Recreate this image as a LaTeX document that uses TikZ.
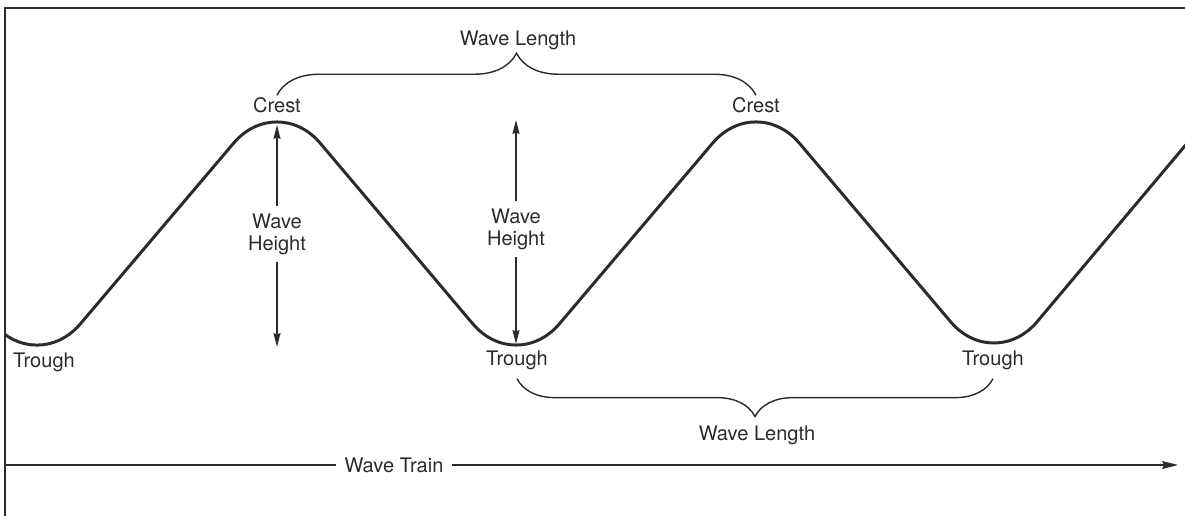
\documentclass[tikz,border=0pt]{standalone}
\usepackage{fontspec}
\setmainfont{TeX Gyre Heros}
\usetikzlibrary{arrows.meta,decorations.pathreplacing}
\definecolor{ink}{HTML}{2B2B2B}
\tikzset{
  lbl/.style={inner sep=1pt,text=ink,font=\fontsize{11.4}{12.5}\selectfont},
  hgt/.style={draw=ink,line width=0.8pt,-{Stealth[length=8pt,width=4pt,inset=1pt]}},
  wavebrace/.style={draw=ink,line width=0.8pt,decorate,decoration={brace,amplitude=#1}},
}
\begin{document}
\begin{tikzpicture}[x=0.02cm,y=-0.02cm]
    \useasboundingbox (0,0) rectangle (1185,516);
    % frame
    \draw[ink,line width=1pt] (1185,8) -- (5,8) -- (5,516);
    % the wave
    \begin{scope}
      \clip (5,0) rectangle (1185,516);
      \draw[ink,line width=1.7pt,rounded corners=1.34cm] (-20,308) -- (37,375) -- (277,92) -- (516,375) -- (756,92) -- (994,373) -- (1210,116);
    \end{scope}

    \node[lbl] (crestA) at (277,105){Crest};
    \node[lbl] (crestB) at (756,105){Crest};
    \node[lbl] (troughA) at (44,362){Trough};
    \node[lbl] (troughB) at (517,360){Trough};
    \node[lbl] (troughC) at (993,360){Trough};
    \node[lbl,inner sep=4pt,align=center] (hgtA) at (277,234){Wave\\Height};
    \node[lbl,inner sep=4pt,align=center] (hgtB) at (516,229){Wave\\Height};
    \node[lbl] (lenTop) at (518,40){Wave Length};
    \node[lbl] (lenBot) at (757,435){Wave Length};
    \node[lbl,inner sep=4.5pt] (train) at (394,465){Wave Train};

    \coordinate (topA) at (277,125);
    \coordinate (botA) at (277,347);
    \coordinate (topB) at (516,120);
    \coordinate (botB) at (516,344);
    \coordinate (trainL) at (5,465);
    \coordinate (trainR) at (1178,465);

    \draw (hgtA) edge[hgt] (topA);
    \draw (hgtA) edge[hgt] (botA);
    \draw (hgtB) edge[hgt] (topB);
    \draw (hgtB) edge[hgt] (botB);

    \draw[wavebrace=0.84cm] (crestA.north) -- (crestB.north);
    \draw[wavebrace=0.76cm,decoration={mirror}] ([yshift=-4pt]troughB.south) -- ([yshift=-4pt]troughC.south);

    \draw[ink,line width=0.8pt] (trainL) -- (train);
    \draw (train) edge[ink,line width=0.8pt,-{Stealth[length=9pt,width=4.5pt,inset=1pt]}] (trainR);
  \end{tikzpicture}
\end{document}
